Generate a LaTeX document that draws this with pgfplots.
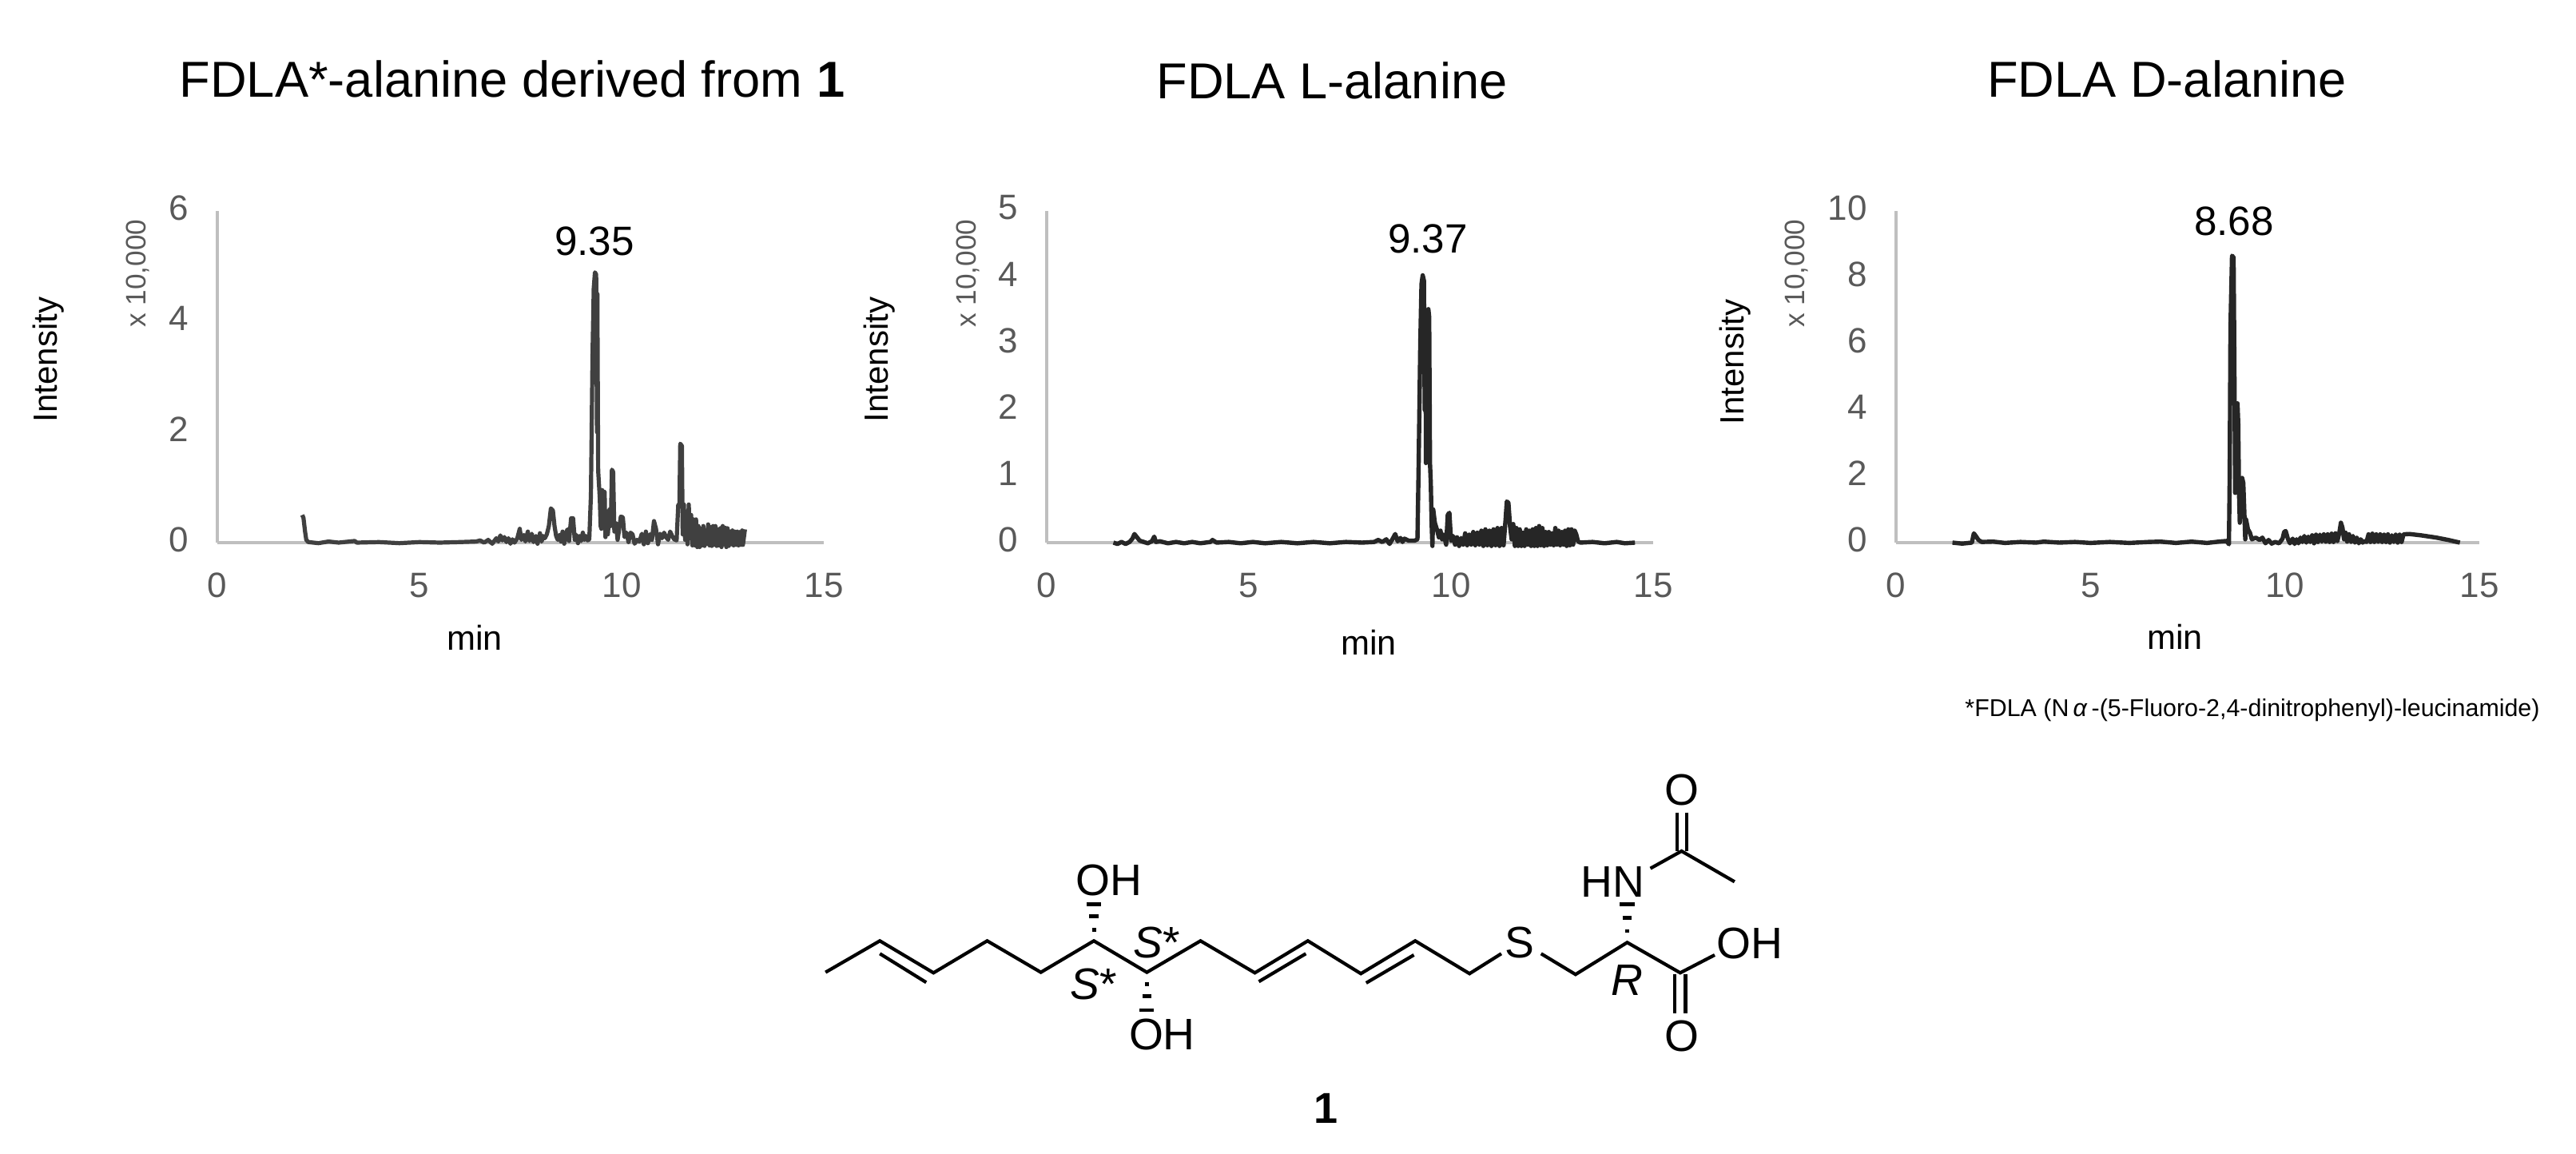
\documentclass[border=0pt]{standalone}
\usepackage{fontspec}
\setmainfont{Liberation Sans}
\usepackage{pgfplots}
\pgfplotsset{compat=1.18}
\definecolor{axisgray}{HTML}{BFBFBF}
\definecolor{tickgray}{HTML}{595959}
\definecolor{traceA}{HTML}{404040}
\definecolor{traceB}{HTML}{262626}
\pgfplotsset{chrom/.style={
  scale only axis, anchor=south west, width=189.75pt, height=103.75pt,
  xmin=0, xmax=15, ymin=0, clip=false,
  axis x line*=bottom, axis y line*=left,
  axis line style={draw=axisgray, line width=1pt, -},
  major tick length=0pt, tick style={draw=none},
  xtick={0,5,10,15},
  /pgf/number format/assume math mode=true,
  tick label style={text=tickgray, font=\fontsize{11}{12}\selectfont},
  xticklabel style={yshift=-6pt},
  yticklabel style={xshift=-5.5pt, yshift=1pt},
}}
\begin{document}
\begin{tikzpicture}[x=1pt,y=1pt]
\path[use as bounding box] (0,0) rectangle (806,361);

% --- chart 1
\begin{axis}[chrom, at={(68pt,191.25pt)}, ymax=6, ytick={0,2,4,6}]
\addplot[traceA, line width=1.3pt, line join=round] coordinates {
(2.1,0.5)(2.13,0.45)(2.17,0.2)(2.2,0.05)(2.25,0.01)(2.5,-0.01)(2.75,0.02)(3,0)(3.4,0.03)(3.45,0)(4,0.01)(4.5,-0.01)(5,0.01)(5.5,0)(6,0.01)(6.4,0.02)(6.5,0.04)(6.6,0)(6.7,0.05)(6.8,-0.02)(6.9,0.08)(6.95,0.02)(7.0,0.13)(7.05,0.04)(7.1,0.1)(7.15,0.01)(7.2,0.08)(7.25,-0.02)(7.3,0.06)(7.35,0)(7.42,0.08)(7.48,0.25)(7.52,0.05)(7.58,0.14)(7.62,0.02)(7.68,0.2)(7.72,0.03)(7.78,0.16)(7.82,0.01)(7.88,0.12)(7.92,-0.02)(7.98,0.17)(8.02,0.02)(8.06,0.12)(8.1,0.08)(8.15,0.15)(8.2,0.3)(8.25,0.62)(8.3,0.58)(8.34,0.3)(8.38,0.12)(8.42,0.05)(8.46,0.14)(8.5,0.02)(8.54,0.2)(8.58,-0.02)(8.62,0.16)(8.66,0.24)(8.7,0.03)(8.75,0.44)(8.8,0.44)(8.84,0.05)(8.88,0.14)(8.92,-0.01)(8.96,0.12)(9.0,0.03)(9.04,0.18)(9.08,0.05)(9.12,0.12)(9.16,0.04)(9.2,0.06)(9.24,0.85)(9.28,3.4)(9.31,4.6)(9.34,4.89)(9.37,4.85)(9.39,2)(9.40,4.5)(9.42,1.3)(9.44,1.05)(9.46,0.8)(9.48,0.3)(9.5,0.25)(9.52,0.95)(9.55,0.9)(9.58,0.92)(9.6,0.1)(9.63,0.35)(9.66,0.15)(9.7,0.6)(9.73,0.3)(9.76,1.32)(9.79,1.28)(9.82,0.2)(9.86,0.35)(9.9,0.05)(9.94,0.25)(9.98,0.47)(10.03,0.46)(10.07,0.1)(10.12,0.18)(10.17,0.01)(10.22,0.18)(10.27,0.15)(10.32,-0.02)(10.38,0.05)(10.44,0.02)(10.5,0.16)(10.55,-0.03)(10.6,0.2)(10.65,-0.01)(10.7,0.15)(10.75,0.05)(10.8,0.39)(10.85,0.25)(10.9,-0.03)(10.95,0.16)(11.0,0.08)(11.05,0.18)(11.1,0.1)(11.15,0.05)(11.2,0.2)(11.25,0.12)(11.3,0.06)(11.36,0.04)(11.4,0.68)(11.43,0.7)(11.45,1.79)(11.49,1.75)(11.51,0.15)(11.54,0.69)(11.57,0.05)(11.6,0.55)(11.63,-0.03)(11.66,0.69)(11.69,0.1)(11.72,0.5)(11.75,-0.05)(11.78,0.42)(11.81,-0.05)(11.84,0.42)(11.87,-0.08)(11.9,0.3)(11.93,-0.08)(11.96,0.25)(11.99,-0.05)(12.02,0.3)(12.05,-0.06)(12.08,0.2)(12.11,-0.02)(12.14,0.33)(12.17,-0.05)(12.2,0.28)(12.23,-0.06)(12.26,0.3)(12.29,-0.04)(12.32,0.3)(12.35,-0.06)(12.38,0.24)(12.41,-0.05)(12.44,0.26)(12.47,-0.08)(12.5,0.3)(12.53,-0.03)(12.56,0.27)(12.59,-0.08)(12.62,0.26)(12.65,-0.06)(12.68,0.2)(12.71,-0.03)(12.74,0.22)(12.77,-0.05)(12.8,0.2)(12.83,-0.04)(12.86,0.2)(12.89,-0.05)(12.92,0.19)(12.95,-0.04)(12.98,0.22)(13.0,-0.04)(13.05,0.24)
};
\end{axis}

% --- chart 2
\begin{axis}[chrom, at={(327.5pt,191.25pt)}, ymax=5, ytick={0,1,2,3,4,5}]
\addplot[traceB, line width=1.35pt, line join=round] coordinates {
(1.65,0)(1.75,-0.02)(1.85,0.01)(1.95,-0.02)(2.05,0.01)(2.12,0.06)(2.17,0.13)(2.22,0.09)(2.3,0.03)(2.4,0.01)(2.5,-0.01)(2.6,0.02)(2.66,0.09)(2.7,0.01)(2.8,0.02)(3,-0.01)(3.2,0.01)(3.4,-0.01)(3.6,0.01)(3.8,-0.01)(4.05,0.01)(4.1,0.04)(4.2,0)(4.5,0.01)(4.8,-0.01)(5.1,0.01)(5.4,-0.01)(5.8,0.01)(6.2,-0.01)(6.6,0.01)(7,-0.01)(7.4,0.01)(7.8,0)(8.1,0.01)(8.2,0.04)(8.3,0.01)(8.4,0.05)(8.48,-0.02)(8.55,0.05)(8.62,0.13)(8.68,0.02)(8.75,0.07)(8.8,0.01)(8.85,0.06)(8.95,0.03)(9.1,0.03)(9.17,0.05)(9.2,1.2)(9.24,3)(9.27,3.9)(9.3,4.03)(9.33,3.95)(9.35,2.0)(9.37,3.1)(9.38,1.2)(9.41,2.6)(9.44,3.52)(9.46,3.4)(9.48,1.2)(9.5,0.9)(9.52,0.3)(9.54,-0.05)(9.56,0.5)(9.6,0.3)(9.65,0.2)(9.7,0.08)(9.74,0.18)(9.78,0.05)(9.82,0.12)(9.88,-0.03)(9.92,0.42)(9.96,0.45)(10.0,0.03)(10.05,0.1)(10.1,-0.03)(10.15,0.08)(10.2,-0.05)(10.25,0.07)(10.3,-0.03)(10.35,0.14)(10.4,-0.04)(10.45,0.12)(10.5,-0.03)(10.55,0.16)(10.6,-0.04)(10.65,0.15)(10.7,-0.03)(10.75,0.18)(10.8,-0.05)(10.85,0.2)(10.9,-0.04)(10.95,0.18)(11,-0.05)(11.05,0.2)(11.1,-0.04)(11.15,0.22)(11.2,-0.05)(11.25,0.22)(11.3,-0.04)(11.35,0.35)(11.38,0.62)(11.42,0.6)(11.46,0.25)(11.5,0.05)(11.54,0.28)(11.58,-0.05)(11.62,0.22)(11.66,-0.05)(11.7,0.2)(11.74,-0.05)(11.78,0.15)(11.82,-0.05)(11.86,0.2)(11.9,-0.03)(11.94,0.18)(11.98,-0.05)(12.02,0.2)(12.06,-0.05)(12.1,0.22)(12.14,-0.05)(12.18,0.25)(12.22,-0.04)(12.26,0.22)(12.3,-0.05)(12.34,0.16)(12.38,-0.04)(12.42,0.16)(12.46,-0.03)(12.5,0.14)(12.54,-0.04)(12.58,0.22)(12.62,-0.03)(12.66,0.18)(12.7,-0.04)(12.74,0.16)(12.78,-0.03)(12.82,0.18)(12.86,-0.05)(12.9,0.2)(12.94,-0.04)(12.98,0.2)(13.02,-0.03)(13.06,0.18)(13.1,0.12)(13.14,0.02)(13.2,0)(13.5,0.01)(13.8,-0.01)(14.1,0.01)(14.3,-0.01)(14.55,0)
};
\end{axis}

% --- chart 3
\begin{axis}[chrom, at={(593.25pt,191.25pt)}, width=182.5pt, ymax=10, ytick={0,2,4,6,8,10}]
\addplot[traceB, line width=1.35pt, line join=round] coordinates {
(1.45,0)(1.7,-0.03)(1.95,0)(2.0,0.28)(2.05,0.2)(2.12,0.08)(2.2,0.02)(2.5,0.03)(2.8,-0.01)(3.2,0.02)(3.6,0)(3.8,0.03)(4.2,0)(4.6,0.02)(5,-0.01)(5.5,0.02)(6,-0.01)(6.5,0.02)(6.8,0.03)(7.2,-0.01)(7.6,0.03)(8,-0.01)(8.3,0.03)(8.5,0.05)(8.56,-0.05)(8.58,2)(8.6,6.5)(8.64,8.65)(8.68,8.6)(8.7,5.5)(8.72,1.5)(8.75,2)(8.78,4.2)(8.8,3.6)(8.82,1.5)(8.84,0.6)(8.86,1.2)(8.9,1.95)(8.93,1.8)(8.96,0.8)(8.98,0.1)(9.0,0.7)(9.05,0.4)(9.1,0.3)(9.15,0.1)(9.25,0.15)(9.35,0.08)(9.42,0.15)(9.5,-0.02)(9.58,0.08)(9.66,-0.03)(9.75,0.02)(9.85,-0.02)(9.94,0.12)(9.98,0.32)(10.02,0.35)(10.08,0.1)(10.13,-0.02)(10.2,0.12)(10.25,-0.04)(10.3,0.1)(10.35,-0.02)(10.4,0.15)(10.45,0.02)(10.5,0.2)(10.55,0)(10.6,0.18)(10.65,0.02)(10.7,0.22)(10.75,-0.02)(10.8,0.24)(10.85,0.02)(10.9,0.24)(10.95,0.03)(11,0.25)(11.05,0.03)(11.1,0.25)(11.15,0.02)(11.2,0.27)(11.25,0.02)(11.3,0.28)(11.35,0.05)(11.4,0.3)(11.44,0.6)(11.48,0.45)(11.52,0.1)(11.56,0.3)(11.6,0.03)(11.65,0.25)(11.7,0.02)(11.75,0.2)(11.8,0)(11.85,0.15)(11.9,-0.02)(11.95,0.1)(12,0)(12.05,0.05)(12.1,0.02)(12.15,0.25)(12.2,0.02)(12.25,0.27)(12.3,0.02)(12.35,0.25)(12.4,0.03)(12.45,0.25)(12.5,0.02)(12.55,0.24)(12.6,0.02)(12.65,0.25)(12.7,0)(12.75,0.22)(12.8,0.02)(12.85,0.24)(12.9,0)(12.95,0.24)(13,0.02)(13.05,0.25)(13.2,0.26)(13.5,0.22)(13.9,0.15)(14.2,0.08)(14.5,0)
};
\end{axis}

% --- all text and the structure, in reference pixels
\begin{scope}[shift={(0,361)},x=0.25pt,y=-0.25pt]
\node[font=\fontsize{15.8}{18}\selectfont] at (641,99) {FDLA*-alanine derived from \textbf{1}};
\node[font=\fontsize{15.8}{18}\selectfont] at (1667,101) {FDLA L-alanine};
\node[font=\fontsize{15.8}{18}\selectfont] at (2712,99) {FDLA D-alanine};
\foreach \xa/\ya/\xb/\yb/\xc/\yc/\t in {744/302/594/798/61/450/9.35, 1787/299/1713/804/1101/450/9.37, 2796/277/2722/797/2172/453/8.68}{
  \node[font=\fontsize{12.8}{15}\selectfont] at (\xa,\ya) {\t};
  \node[font=\fontsize{10.8}{12}\selectfont] at (\xb,\yb) {min};
  \node[font=\fontsize{10.5}{12}\selectfont,rotate=90] at (\xc,\yc) {Intensity};
}
\foreach \xd in {172,1211,2248}{
  \node[font=\fontsize{8.8}{10}\selectfont,text=tickgray,rotate=90] at (\xd,342) {x 10,000};
}
\node[font=\fontsize{7.6}{9}\selectfont] at (2819,889) {*FDLA (N\,\textit{α}\,-(5-Fluoro-2,4-dinitrophenyl)-leucinamide)};
\end{scope}

\begin{scope}[shift={(250,128.5)},x=0.2073pt,y=-0.08333pt,line width=1.05pt,line join=miter]
\draw (40,860)--(122,742)--(203,862)--(284,742)--(365,860)--(445,742)--(525,860)--(606,742)--(688,862)--(768,742)--(848,865)--(930,742)--(1012,865)--(1060,790);
\draw (1120,790)--(1172,868)--(1250,748)--(1330,862)--(1382,795);
\draw (122,790)--(192,898);
\draw (694,895)--(765,790);
\draw (856,900)--(928,795);
\draw (1322,868)--(1322,1015);
\draw (1338,868)--(1338,1015);
\draw (1285,470)--(1332,405)--(1412,520);
\draw (1325,260)--(1325,405);
\draw (1340,260)--(1340,405);
\foreach \hx/\ya/\yb/\yc in {445/605/650/700,1250/605/655/705,525/1002/950/905}{
  \draw[line width=1.1pt] (\hx-11,\ya)--(\hx+11,\ya);
  \draw[line width=1.1pt] (\hx-7,\yb)--(\hx+7,\yb);
  \draw[line width=1.1pt] (\hx-3,\yc)--(\hx+3,\yc);
}
\tikzset{atom/.style={font=\fontsize{13.8}{15}\selectfont,inner sep=0pt}}
\node[atom] at (468,515) {OH};
\node[atom] at (548,1095) {OH};
\node[atom] at (1088,750) {S};
\node[atom] at (1435,752) {OH};
\node[atom] at (1228,520) {HN};
\node[atom] at (1332,175) {O};
\node[atom] at (1332,1100) {O};
\node[atom] at (540,750) {\textit{S}*};
\node[atom] at (445,905) {\textit{S}*};
\node[atom] at (1250,890) {\textit{R}};
\node[font=\fontsize{13.5}{15}\selectfont\bfseries,inner sep=0pt] at (795,1370) {1};
\end{scope}
\end{tikzpicture}
\end{document}
